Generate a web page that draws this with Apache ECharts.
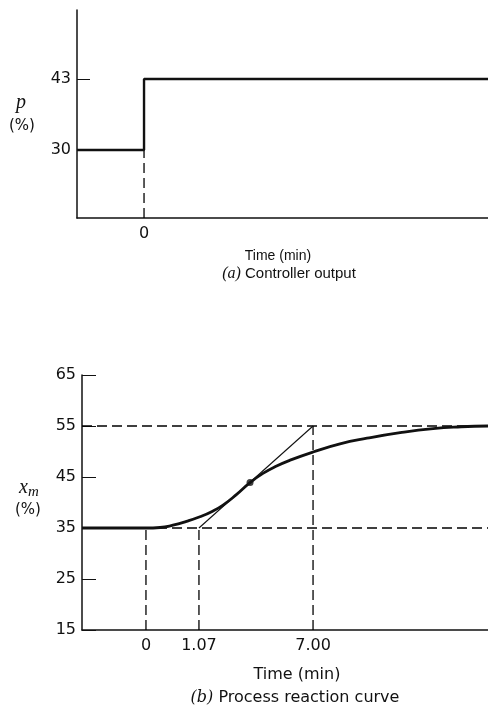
<!DOCTYPE html>
<html><head><meta charset="utf-8">
<script src="https://cdn.jsdelivr.net/npm/echarts@6/dist/echarts.min.js"></script>
<style>html,body{margin:0;padding:0;background:#fff}#c{width:488px;height:708px}</style>
</head><body><div id="c"></div>
<script>
// (a) Controller output
const pTime = [-2.81, 0, 0, 14.42];
const pValue = [30, 30, 43, 43];
const pTicks = [30, 43];
const pStepTime = 0;
// (b) Process reaction curve (time axis is schematic: tick positions carry labels)
const xmTime = [-2.68, 0, 0.59, 1.13, 1.7, 2.26, 2.75, 3.23, 3.8, 4.36, 4.90, 5.45, 6.04, 7.00, 8.13, 9.26, 10.65, 12.03, 13.2, 14.33];
const xmValue = [35, 35, 35.1, 35.55, 36.3, 37.2, 38.2, 39.5, 41.6, 43.9, 45.7, 47.1, 48.3, 49.9, 51.5, 52.6, 53.7, 54.5, 54.85, 55];
const xmTicks = [15, 25, 35, 45, 55, 65];
const timeTickPos = [0, 2.22, 7.00];
const timeTickLabels = ['0', '1.07', '7.00'];
const tangentTime = [2.22, 7.00];
const tangentValue = [35, 55];
const inflection = [4.36, 43.9];
const initialValue = 35, finalValue = 55;

const X1 = [-2.81, 14.42], Y1 = [17.55, 55.63];
const X2 = [-2.68, 14.33], Y2 = [15, 65];
const INK = '#111';
const tickFont = 'DejaVu Sans';
const dash = [10, 5];

function zip(a, b) { return a.map((v, i) => [v, b[i]]); }
function dashed(xi, yi, pts, w) {
  return { type: 'line', xAxisIndex: xi, yAxisIndex: yi, data: pts, symbol: 'none', silent: true,
    lineStyle: { color: '#000', width: w || 1.3, type: dash }, z: 1 };
}
const axisLine = { show: true, onZero: false, lineStyle: { color: INK, width: 1.5 } };

const chart = echarts.init(document.getElementById('c'), null, { renderer: 'canvas' });
chart.setOption({
  animation: false,
  backgroundColor: '#fff',
  grid: [
    { left: 77, top: 10, right: 0, height: 208 },
    { left: 82, top: 375, right: 0, height: 255 }
  ],
  xAxis: [
    { gridIndex: 0, type: 'value', min: X1[0], max: X1[1], axisLine, splitLine: { show: false },
      axisTick: { show: false },
      axisLabel: { customValues: [pStepTime], formatter: v => String(v), margin: 8, color: INK, fontSize: 16, fontFamily: tickFont } },
    { gridIndex: 1, type: 'value', min: X2[0], max: X2[1], axisLine, splitLine: { show: false },
      axisTick: { show: false },
      axisLabel: { customValues: timeTickPos, margin: 8, color: INK, fontSize: 16, fontFamily: tickFont,
        formatter: v => { const i = timeTickPos.findIndex(t => Math.abs(t - v) < 1e-6); return i >= 0 ? timeTickLabels[i] : ''; } } }
  ],
  yAxis: [
    { gridIndex: 0, type: 'value', min: Y1[0], max: Y1[1], axisLine, splitLine: { show: false },
      axisTick: { show: true, inside: true, length: 13, customValues: pTicks, lineStyle: { color: INK, width: 1 } },
      axisLabel: { customValues: pTicks, margin: 6, color: INK, fontSize: 16, fontFamily: tickFont } },
    { gridIndex: 1, type: 'value', min: Y2[0], max: Y2[1], axisLine, splitLine: { show: false },
      axisTick: { show: true, inside: true, length: 14, customValues: xmTicks, lineStyle: { color: INK, width: 1 } },
      axisLabel: { customValues: xmTicks, margin: 6, color: INK, fontSize: 16, fontFamily: tickFont } }
  ],
  series: [
    dashed(0, 0, [[pStepTime, Y1[0]], [pStepTime, pValue[1]]]),
    { type: 'line', xAxisIndex: 0, yAxisIndex: 0, data: zip(pTime, pValue), symbol: 'none',
      lineStyle: { color: INK, width: 2.4 }, z: 3 },

    dashed(1, 1, [[X2[0], finalValue], [X2[1], finalValue]]),
    dashed(1, 1, [[X2[0], initialValue], [X2[1], initialValue]]),
    dashed(1, 1, [[timeTickPos[0], Y2[0]], [timeTickPos[0], initialValue]]),
    dashed(1, 1, [[timeTickPos[1], Y2[0]], [timeTickPos[1], initialValue]]),
    dashed(1, 1, [[timeTickPos[2], Y2[0]], [timeTickPos[2], finalValue]]),
    { type: 'line', xAxisIndex: 1, yAxisIndex: 1, data: zip(tangentTime, tangentValue), symbol: 'none',
      lineStyle: { color: INK, width: 1.1 }, z: 2 },
    { type: 'line', xAxisIndex: 1, yAxisIndex: 1, data: zip(xmTime, xmValue), symbol: 'none',
      smooth: 0.5, lineStyle: { color: INK, width: 2.8 }, z: 3 },
    { type: 'scatter', xAxisIndex: 1, yAxisIndex: 1, data: [inflection], symbolSize: 7,
      itemStyle: { color: INK }, z: 4 }
  ],
  graphic: [
    { type: 'text', left: 16, top: 93, style: { text: 'p', font: 'italic 20px "Liberation Serif"', fill: INK } },
    { type: 'text', left: 9, top: 119, style: { text: '(%)', font: '15px "DejaVu Sans"', fill: INK } },
    { type: 'text', x: 278, y: 256, style: { text: 'Time (min)', font: '14px "Liberation Sans"', fill: INK, align: 'center', verticalAlign: 'middle' } },
    { type: 'text', x: 289, y: 274, style: { text: '{i|(a)} Controller output', fill: INK, align: 'center', verticalAlign: 'middle',
        font: '15px "Liberation Sans"', rich: { i: { fontStyle: 'italic', fontFamily: 'Liberation Serif', fontSize: 16 } } } },
    { type: 'text', left: 19, top: 478, style: { text: '{x|x}{m|m}', fill: INK,
        rich: { x: { fontStyle: 'italic', fontFamily: 'Liberation Serif', fontSize: 20 }, m: { fontStyle: 'italic', fontFamily: 'Liberation Serif', fontSize: 15, padding: [8, 0, 0, 0] } } } },
    { type: 'text', left: 15, top: 503, style: { text: '(%)', font: '15px "DejaVu Sans"', fill: INK } },
    { type: 'text', x: 297, y: 675, style: { text: 'Time (min)', font: '16px "DejaVu Sans"', fill: INK, align: 'center', verticalAlign: 'middle' } },
    { type: 'text', x: 295, y: 698, style: { text: '{i|(b)} Process reaction curve', fill: INK, align: 'center', verticalAlign: 'middle',
        font: '16px "DejaVu Sans"', rich: { i: { fontStyle: 'italic', fontFamily: 'DejaVu Serif', fontSize: 16 } } } }
  ]
});
</script>
</body></html>
